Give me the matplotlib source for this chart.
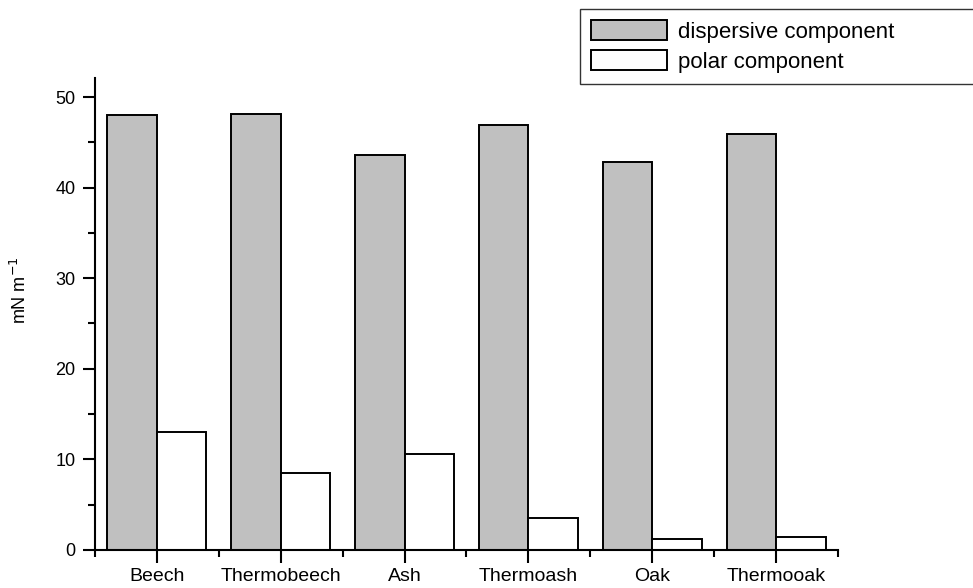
import numpy as np
import matplotlib
matplotlib.use('Agg')
import matplotlib.pyplot as plt
from matplotlib.ticker import MultipleLocator, FixedLocator

plt.rcParams['font.family'] = ['Liberation Sans', 'DejaVu Sans']

woods = ['Beech', 'Thermobeech', 'Ash', 'Thermoash', 'Oak', 'Thermooak']
dispersive = [48.0, 48.2, 43.6, 46.9, 42.8, 45.9]
polar = [13.0, 8.5, 10.6, 3.5, 1.2, 1.4]

x = np.arange(len(woods))
w = 0.4

fig = plt.figure(figsize=(9.73, 5.88), dpi=100)
ax = fig.add_axes([0.0976, 0.065, 0.7636, 0.802])

ax.bar(x - w/2, dispersive, w, color='#c0c0c0', edgecolor='black', linewidth=1.4,
       label='dispersive component')
ax.bar(x + w/2, polar, w, color='white', edgecolor='black', linewidth=1.4,
       label='polar component')

ax.set_xlim(-0.5, len(woods) - 0.5)
ax.set_ylim(0, 52.1)

ax.spines['top'].set_visible(False)
ax.spines['right'].set_visible(False)
ax.spines['left'].set_linewidth(1.5)
ax.spines['bottom'].set_linewidth(1.5)

ax.set_xticks(x)
ax.set_xticklabels(woods, fontsize=14)
ax.xaxis.set_minor_locator(FixedLocator(np.arange(-0.5, len(woods), 1.0)))
ax.yaxis.set_major_locator(MultipleLocator(10))
ax.yaxis.set_minor_locator(MultipleLocator(5))
ax.tick_params(axis='both', which='major', direction='out', length=9, width=1.5)
ax.tick_params(axis='both', which='minor', direction='out', length=5, width=1.5)
ax.tick_params(axis='y', labelsize=13, pad=5)
ax.tick_params(axis='x', pad=4)

ax.set_ylabel(r'mN m$^{-1}$', fontsize=13)
ax.yaxis.set_label_coords(-0.087, 0.55)

# legend box runs off the right edge of the figure, as in the original
leg = fig.legend(loc='upper left',
                 bbox_to_anchor=(580/973, 1 - 81/588, 400/973, 72/588),
                 bbox_transform=fig.transFigure, mode='expand', fontsize=16,
                 frameon=True, fancybox=False, edgecolor='black',
                 handlelength=3.4, handleheight=1.0, handletextpad=0.5,
                 borderaxespad=0, labelspacing=0.35, borderpad=0.5)
leg.get_frame().set_linewidth(1.0)

fig.savefig('out.png', dpi=100)
